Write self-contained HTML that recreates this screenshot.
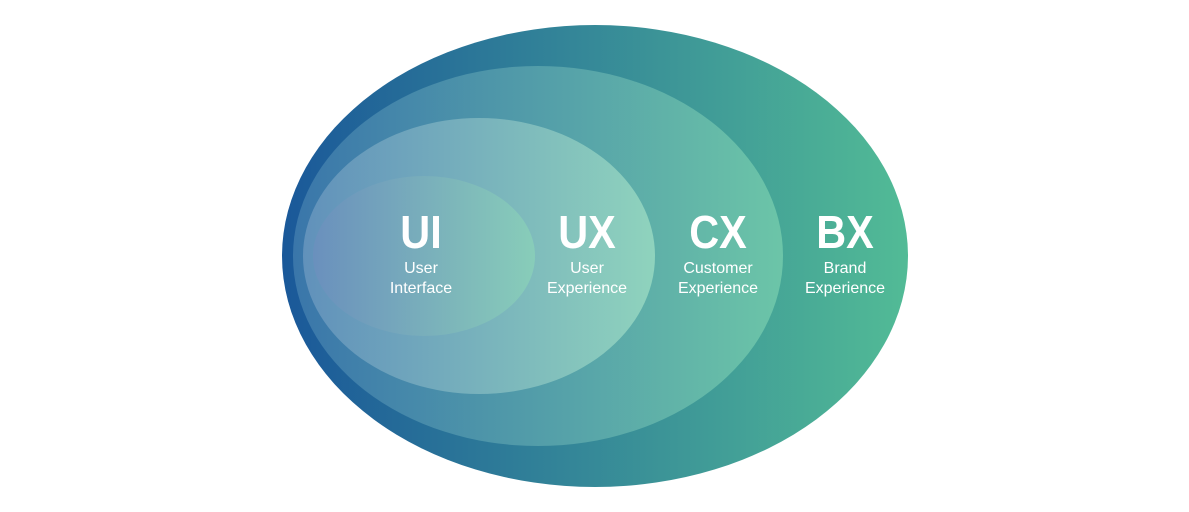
<!DOCTYPE html>
<html><head><style>
html,body{margin:0;padding:0;background:#fff;width:1189px;height:512px;overflow:hidden}
</style></head><body>
<svg width="1189" height="512" viewBox="0 0 1189 512" xmlns="http://www.w3.org/2000/svg">
<defs>
<linearGradient id="g1" x1="0" x2="1"><stop offset="0" stop-color="#1a5899"/><stop offset="1" stop-color="#52bb96"/></linearGradient>
<linearGradient id="g2" x1="0" x2="1"><stop offset="0" stop-color="#3a76aa"/><stop offset="1" stop-color="#6cc5a8"/></linearGradient>
<linearGradient id="g3" x1="0" x2="1"><stop offset="0" stop-color="#6191bb"/><stop offset="1" stop-color="#8fd3bd"/></linearGradient>
<linearGradient id="g4" x1="0" x2="1"><stop offset="0" stop-color="#6a90bd"/><stop offset="1" stop-color="#88cdb9"/></linearGradient>
</defs>
<ellipse cx="595" cy="256" rx="313" ry="231" fill="url(#g1)"/>
<ellipse cx="538" cy="256" rx="245" ry="190" fill="url(#g2)"/>
<ellipse cx="479" cy="256" rx="176" ry="138" fill="url(#g3)"/>
<ellipse cx="424" cy="256" rx="111" ry="80" fill="url(#g4)"/>
<g font-family="Liberation Sans, sans-serif" fill="#fff" text-anchor="middle">
<g font-size="46" font-weight="bold">
<text transform="translate(421 248) scale(0.9 1)">UI</text>
<text transform="translate(587 248) scale(0.9 1)">UX</text>
<text transform="translate(718 248) scale(0.9 1)">CX</text>
<text transform="translate(845 248) scale(0.9 1)">BX</text>
</g>
<g font-size="16">
<text x="421" y="273">User</text><text x="421" y="293">Interface</text>
<text x="587" y="273">User</text><text x="587" y="293">Experience</text>
<text x="718" y="273">Customer</text><text x="718" y="293">Experience</text>
<text x="845" y="273">Brand</text><text x="845" y="293">Experience</text>
</g>
</g>
</svg>
</body></html>
